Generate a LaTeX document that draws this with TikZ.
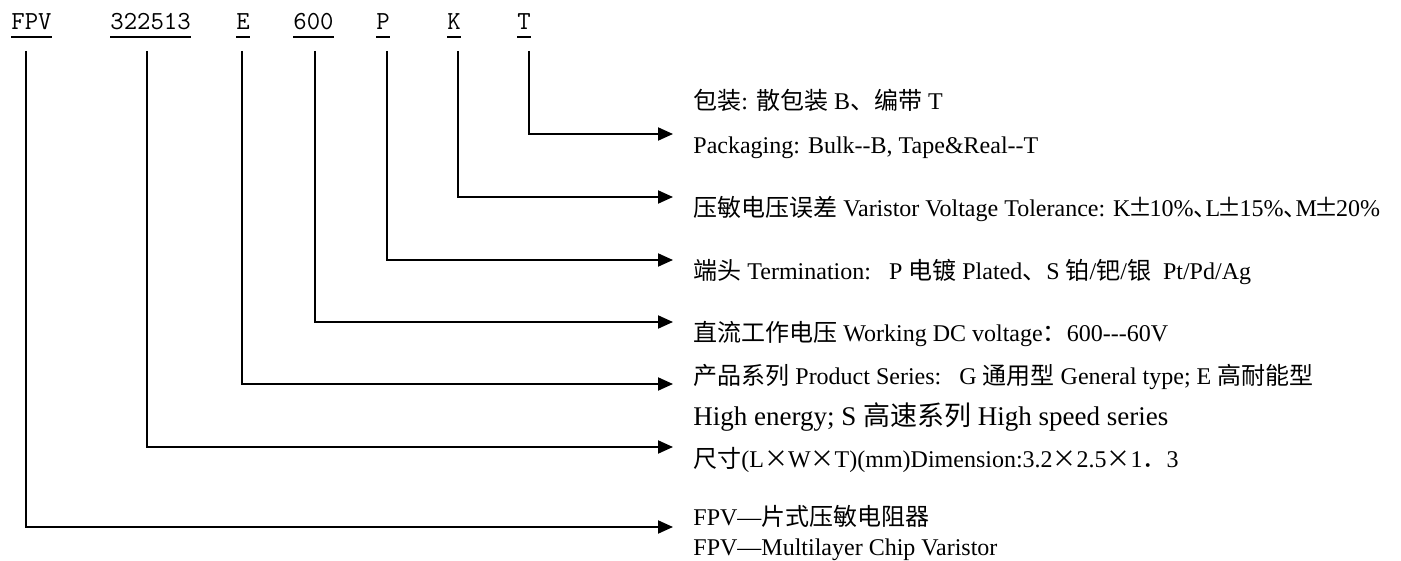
\documentclass[tikz,border=0pt]{standalone}
\usepackage{fontspec}
\setmainfont{Liberation Serif}
\newfontfamily\zhfont{Noto Sans CJK SC}
\usetikzlibrary{arrows.meta}
\newcommand\zh[1]{{\zhfont #1}}
\newcommand\fw[2][1em]{\makebox[#1]{\zhfont #2}}
\newcommand\dun{\makebox[0.5em][l]{\zhfont 、}}
\tikzset{
  code/.style={anchor=base west, inner sep=0pt, font=\ttfamily\fontsize{13}{15}\selectfont},
  uline/.style={line width=1pt},
  conn/.style={line width=1pt, -{Triangle[length=7.5pt,width=6.5pt]}},
  desc/.style={anchor=base west, inner sep=0pt, font=\fontsize{12}{14}\selectfont}
}
\begin{document}
\begin{tikzpicture}[x=0.5pt, y=-0.5pt]
  \useasboundingbox (0,0) rectangle (1401,561);
  % codigo do produto
  \foreach \n/\x/\t in {fpv/11/FPV, size/110/322513, series/236/E, volt/293/600,
                        term/376/P, tol/447/K, pack/517/T} {
    \node[code] (code-\n) at (\x,30) {\t};
    \draw[uline] ([yshift=-3.5pt]code-\n.base west) -- ([yshift=-3.5pt]code-\n.base east);
  }
  % ligacoes
  \foreach \n/\x/\y in {fpv/26/527, size/147/447, series/242/384, volt/315/322,
                        term/387/260, tol/458/197, pack/529/134} {
    \coordinate (top-\n) at (\x,51);
    \coordinate (tip-\n) at (673,\y);
    \draw[conn] (top-\n) |- (tip-\n);
  }
  % descricoes
  \node[desc] (desc-pack-a) at (693,110) {\zh{包装}: \zh{散包装} B\zh{、编带} T};
  \node[desc] (desc-pack-b) at (693,154) {Packaging: Bulk-{}-B, Tape\&Real-{}-T};
  \node[desc] (desc-tol) at (693,217) {\zh{压敏电压误差} Varistor Voltage Tolerance: K\fw[0.8em]{±}10\%\dun L\fw[0.8em]{±}15\%\dun M\fw[0.8em]{±}20\%};
  \node[desc] (desc-term) at (693,279) {\zh{端头} Termination:\ \ \ P \zh{电镀} Plated\zh{、}S \zh{铂}/\zh{钯}/\zh{银}\ \ Pt/Pd/Ag};
  \node[desc] (desc-volt) at (693,341) {\zh{直流工作电压} Working DC voltage\zh{：}600-{}-{}-60V};
  \node[desc] (desc-series-a) at (693,384) {\zh{产品系列} Product Series:\ \ \ G \zh{通用型} General type; E \zh{高耐能型}};
  \node[desc, font=\fontsize{13.5}{15}\selectfont] (desc-series-b) at (693,425) {High energy; S \zh{高速系列} High speed series};
  \node[desc] (desc-size) at (693,467) {\zh{尺寸}(L\fw{×}W\fw{×}T)(mm)Dimension:3.2\fw{×}2.5\fw{×}1\zh{．}3};
  \node[desc] (desc-fpv-a) at (693,525) {FPV—\zh{片式压敏电阻器}};
  \node[desc] (desc-fpv-b) at (693,555) {FPV—Multilayer Chip Varistor};
\end{tikzpicture}
\end{document}
